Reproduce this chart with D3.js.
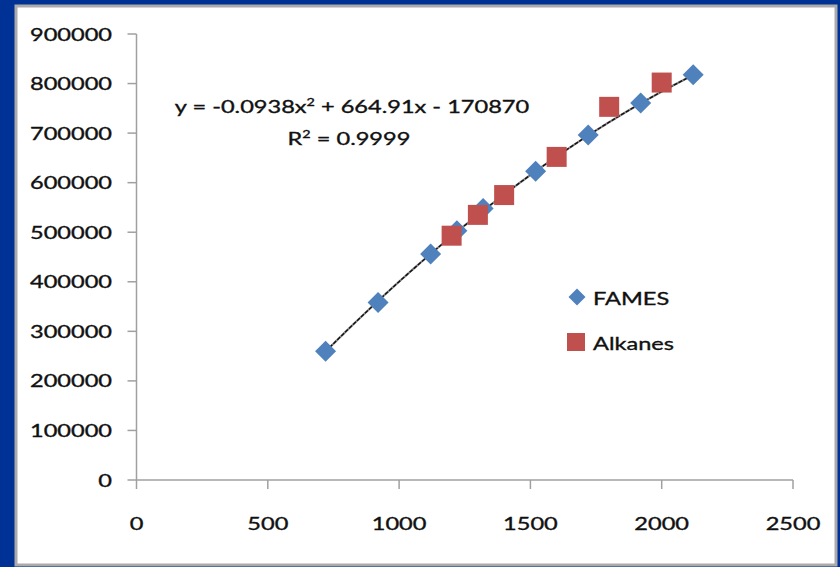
<!DOCTYPE html>
<html>
<head>
<meta charset="utf-8">
<script src="https://cdn.jsdelivr.net/npm/d3@7"></script>
<style>
  html, body { margin: 0; padding: 0; background: #00339a; }
  svg { display: block; }
  text { font-family: Lato, "Open Sans", sans-serif; fill: #111; stroke: #111; stroke-width: 0.35; }
</style>
</head>
<body>
<svg id="chart" width="840" height="567"></svg>
<script>
  // FAMES points
  var famesX = [720, 920, 1120, 1220, 1320, 1520, 1720, 1920, 2120];
  var famesY = [260000, 358000, 456000, 503000, 548000, 623000, 696000, 761000, 818000];

  // Alkanes points
  var alkX = [1200, 1300, 1400, 1600, 1800, 2000];
  var alkY = [493000, 535000, 575000, 652000, 753000, 802000];

  // polynomial trendline coefficients (a x^2 + b x + c)
  var trendCoef = [-0.0938, 664.91, -170870];

  var xTicks = [0, 500, 1000, 1500, 2000, 2500];
  var yTicks = [0, 100000, 200000, 300000, 400000, 500000, 600000, 700000, 800000, 900000];

  var sx = 1.31; // text looks wide in the original

  var svg = d3.select("#chart");

  // slide background + white chart box
  svg.append("rect")
      .attr("width", 840).attr("height", 567)
      .attr("fill", "#003296");
  svg.append("rect")
      .attr("x", 16).attr("y", 6)
      .attr("width", 820).attr("height", 559)
      .attr("fill", "#fff")
      .attr("stroke", "#ababab")
      .attr("stroke-width", 3);

  var x = d3.scaleLinear().domain([0, 2500]).range([136.5, 793]);
  var y = d3.scaleLinear().domain([0, 900000]).range([480, 34]);

  function label(g, tx, ty, txt, anchor) {
    return g.append("g")
        .attr("transform", "translate(" + tx + "," + ty + ") scale(" + sx + ",1)")
      .append("text")
        .attr("text-anchor", anchor)
        .attr("font-size", 18)
        .text(txt);
  }

  // axes
  var axisColor = "#a0a0a0";
  var ax = svg.append("g");
  ax.append("line")
      .attr("x1", x(0)).attr("x2", x(0))
      .attr("y1", y(0)).attr("y2", y(900000))
      .attr("stroke", axisColor).attr("stroke-width", 1.5);
  ax.append("line")
      .attr("x1", x(0)).attr("x2", x(2500))
      .attr("y1", y(0)).attr("y2", y(0))
      .attr("stroke", axisColor).attr("stroke-width", 1.5);

  yTicks.forEach(function(d) {
    ax.append("line")
        .attr("x1", x(0) - 9).attr("x2", x(0))
        .attr("y1", y(d)).attr("y2", y(d))
        .attr("stroke", axisColor).attr("stroke-width", 1.5);
    label(ax, 112, y(d) + 6.5, d, "end");
  });

  xTicks.forEach(function(d) {
    ax.append("line")
        .attr("x1", x(d)).attr("x2", x(d))
        .attr("y1", y(0)).attr("y2", y(0) + 9)
        .attr("stroke", axisColor).attr("stroke-width", 1.5);
    label(ax, x(d), 530, d, "middle");
  });

  // trendline
  var tx = d3.range(famesX[0], famesX[famesX.length - 1] + 1, 10);
  var line = d3.line()
      .x(function(d) { return x(d); })
      .y(function(d) { return y(trendCoef[0] * d * d + trendCoef[1] * d + trendCoef[2]); });
  svg.append("path").datum(tx)
      .attr("d", line).attr("fill", "none")
      .attr("stroke", "#8a8a8a").attr("stroke-width", 2.2);
  svg.append("path").datum(tx)
      .attr("d", line).attr("fill", "none")
      .attr("stroke", "#111").attr("stroke-width", 1.4)
      .attr("stroke-dasharray", "4,1.5");

  // markers (alkanes sit on top of FAMES)
  var blue = "#4f81bd", red = "#c0504d";

  svg.selectAll(".fames")
      .data(famesX)
    .enter().append("path")
      .attr("class", "fames")
      .attr("d", "M0,-10.5L10.5,0L0,10.5L-10.5,0Z")
      .attr("transform", function(d, i) { return "translate(" + x(d) + "," + y(famesY[i]) + ")"; })
      .attr("fill", blue);

  svg.selectAll(".alk")
      .data(alkX)
    .enter().append("rect")
      .attr("class", "alk")
      .attr("x", function(d) { return x(d) - 10; })
      .attr("y", function(d, i) { return y(alkY[i]) - 10; })
      .attr("width", 20).attr("height", 20)
      .attr("fill", red);

  // equation
  var eq = svg.append("g").attr("transform", "translate(352,113) scale(" + sx + ",1)")
    .append("text").attr("text-anchor", "middle").attr("font-size", 18);
  eq.append("tspan").text("y = -0.0938x");
  eq.append("tspan").attr("font-size", 11).attr("dy", -7).text("2");
  eq.append("tspan").attr("dy", 7).text(" + 664.91x - 170870");

  var r2 = svg.append("g").attr("transform", "translate(349,145) scale(" + sx + ",1)")
    .append("text").attr("text-anchor", "middle").attr("font-size", 18);
  r2.append("tspan").text("R");
  r2.append("tspan").attr("font-size", 11).attr("dy", -7).text("2");
  r2.append("tspan").attr("dy", 7).text(" = 0.9999");

  // legend
  svg.append("path")
      .attr("d", "M0,-8.5L8.5,0L0,8.5L-8.5,0Z")
      .attr("transform", "translate(577,297)")
      .attr("fill", blue);
  label(svg, 593, 305, "FAMES", "start");
  svg.append("rect")
      .attr("x", 567).attr("y", 333)
      .attr("width", 18).attr("height", 18)
      .attr("fill", red);
  label(svg, 593, 350, "Alkanes", "start");
</script>
</body>
</html>
